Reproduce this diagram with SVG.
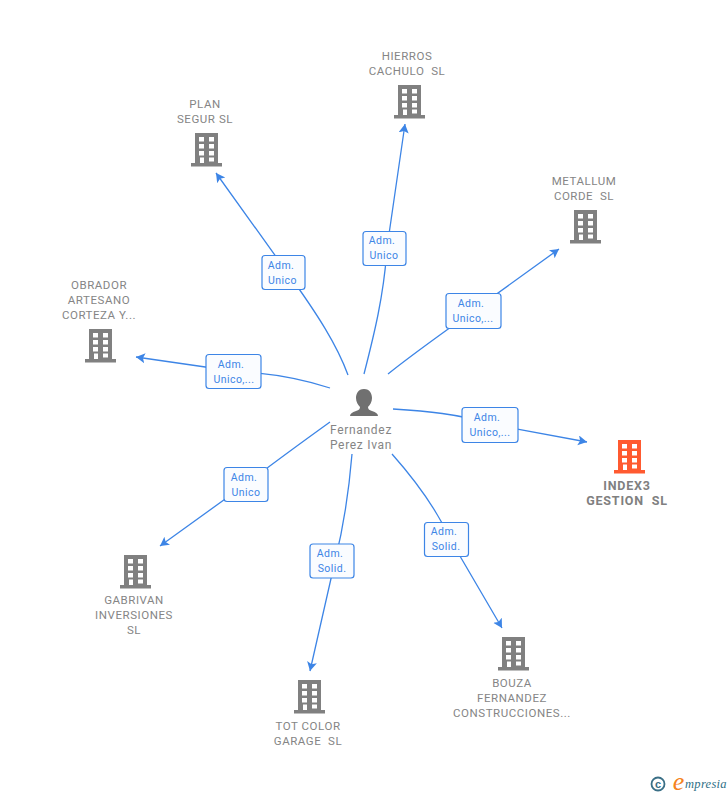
<svg xmlns="http://www.w3.org/2000/svg" xmlns:xlink="http://www.w3.org/1999/xlink" width="728" height="795" viewBox="0 0 728 795">
<style>
.t{font-family:Roboto,"Liberation Sans",Arial,sans-serif;font-size:11.5px;fill:#858585;text-anchor:middle;letter-spacing:.55px;white-space:pre}
.b{font-weight:bold;font-size:12.5px;fill:#808080;letter-spacing:.8px}
.p{font-size:12px;letter-spacing:.7px}
.l{fill:none;stroke:#3d85e6;stroke-width:1.3}
.box{fill:#fafcff;stroke:#3d85e6;stroke-width:1.2}
.lb{font-family:Roboto,"Liberation Sans",Arial,sans-serif;font-size:10.500px;fill:#3d85e6;text-anchor:middle;letter-spacing:.45px}
</style>
<defs>
<marker id="a" markerUnits="userSpaceOnUse" markerWidth="12" markerHeight="12" refX="9" refY="5" orient="auto"><path d="M0 0L9 5L0 10L2 5Z" fill="#3d85e6"/></marker>
<g id="bld"><path fill-rule="evenodd" d="M4 0H27V30H31V33.500H0V30H4ZM8 4V8.500H13V4ZM18 4V8.500H23V4ZM8 11V15.500H13V11ZM18 11V15.500H23V11ZM8 18V22.500H13V18ZM18 18V22.500H23V18ZM9 24.500V30H13V24.500ZM18 24.500V28.500H23V24.500Z"/></g>
</defs>
<g id="connectors">
<path class="l" marker-end="url(#a)" d="M348 375C337 345 318 315 287 272L216 173"/>
<path class="l" marker-end="url(#a)" d="M364 374C374 335 384 295 387 248L405 124"/>
<path class="l" marker-end="url(#a)" d="M388 374C410 356 440 335 473 311L559 249"/>
<path class="l" marker-end="url(#a)" d="M393 409C425 411 460 414 490 424L587 442"/>
<path class="l" marker-end="url(#a)" d="M392 454C415 480 437 510 450 539L502 628"/>
<path class="l" marker-end="url(#a)" d="M352 454C349 490 344 525 335 561L310 671"/>
<path class="l" marker-end="url(#a)" d="M330 422C305 440 280 458 246 484L160 546"/>
<path class="l" marker-end="url(#a)" d="M330 388C300 378 270 373 233 371L136 357"/>
<rect class="box" x="262" y="255.500" width="43" height="34" rx="3"/><text class="lb"><tspan x="281" y="269">Adm.</tspan><tspan x="282.500" y="284">Unico</tspan></text>
<rect class="box" x="363" y="231.500" width="43" height="34" rx="3"/><text class="lb"><tspan x="382" y="244">Adm.</tspan><tspan x="384" y="259">Unico</tspan></text>
<rect class="box" x="446" y="293.500" width="55" height="35" rx="3"/><text class="lb"><tspan x="471" y="307">Adm.</tspan><tspan x="473" y="322">Unico,...</tspan></text>
<rect class="box" x="462" y="407.500" width="56" height="35" rx="3"/><text class="lb"><tspan x="487" y="421">Adm.</tspan><tspan x="490" y="436">Unico,...</tspan></text>
<rect class="box" x="424.500" y="522.500" width="44" height="34" rx="3"/><text class="lb"><tspan x="444" y="535">Adm.</tspan><tspan x="446" y="550">Solid.</tspan></text>
<rect class="box" x="310" y="544" width="44" height="34" rx="3"/><text class="lb"><tspan x="330" y="557">Adm.</tspan><tspan x="332" y="572">Solid.</tspan></text>
<rect class="box" x="224" y="467.500" width="44" height="34" rx="3"/><text class="lb"><tspan x="244" y="481">Adm.</tspan><tspan x="246" y="496">Unico</tspan></text>
<rect class="box" x="206" y="354.500" width="55" height="34" rx="3"/><text class="lb"><tspan x="231" y="368">Adm.</tspan><tspan x="234" y="383">Unico,...</tspan></text>
</g>
<g id="person"><path fill="#707070" d="M364 389C358 389 356 394 356 398C356 402 358 405 360 407C360 409 359 410 356 411C352 412 350 414 350 416H378C378 414 376 412 372 411C369 410 368 409 368 407C370 405 372 402 372 398C372 394 370 389 364 389Z"/><text class="t p"><tspan x="361" y="434">Fernandez</tspan><tspan x="361" y="449">Perez Ivan</tspan></text></g>
<g id="n1" fill="#808080"><use xlink:href="#bld" x="191" y="133"/><text class="t"><tspan x="205" y="108">PLAN</tspan><tspan x="205" y="123">SEGUR SL</tspan></text></g>
<g id="n2" fill="#808080"><use xlink:href="#bld" x="394" y="85"/><text class="t"><tspan x="407" y="60">HIERROS</tspan><tspan x="407" y="75">CACHULO  SL</tspan></text></g>
<g id="n3" fill="#808080"><use xlink:href="#bld" x="570" y="210"/><text class="t"><tspan x="584" y="185">METALLUM</tspan><tspan x="584" y="200">CORDE  SL</tspan></text></g>
<g id="n4" fill="#ff5a30"><use xlink:href="#bld" x="614" y="440"/><text class="t b"><tspan x="627" y="490">INDEX3</tspan><tspan x="627" y="505">GESTION  SL</tspan></text></g>
<g id="n5" fill="#808080"><use xlink:href="#bld" x="498" y="637"/><text class="t"><tspan x="512" y="687">BOUZA</tspan><tspan x="512" y="702">FERNANDEZ</tspan><tspan x="512" y="717">CONSTRUCCIONES...</tspan></text></g>
<g id="n6" fill="#808080"><use xlink:href="#bld" x="294" y="680"/><text class="t"><tspan x="308" y="730">TOT COLOR</tspan><tspan x="308" y="745">GARAGE  SL</tspan></text></g>
<g id="n7" fill="#808080"><use xlink:href="#bld" x="120" y="555"/><text class="t"><tspan x="134" y="604">GABRIVAN</tspan><tspan x="134" y="619">INVERSIONES</tspan><tspan x="134" y="634">SL</tspan></text></g>
<g id="n8" fill="#808080"><use xlink:href="#bld" x="85" y="329"/><text class="t"><tspan x="99" y="289">OBRADOR</tspan><tspan x="99" y="304">ARTESANO</tspan><tspan x="99" y="319">CORTEZA Y...</tspan></text></g>
<g id="logo"><circle cx="658" cy="784" r="6.500" fill="none" stroke="#3a6f86" stroke-width="1.800"/><text x="658" y="788" font-family="Liberation Sans,sans-serif" font-size="11" font-weight="bold" fill="#3a6f86" text-anchor="middle">c</text><text x="678.500" y="790" font-family="Liberation Serif,serif" font-size="26" font-style="italic" fill="#f58220" text-anchor="middle">e</text><text x="685" y="788" font-family="Liberation Serif,serif" font-size="12.500" font-style="italic" fill="#2f6f86" letter-spacing=".3">mpresia</text></g>
</svg>
